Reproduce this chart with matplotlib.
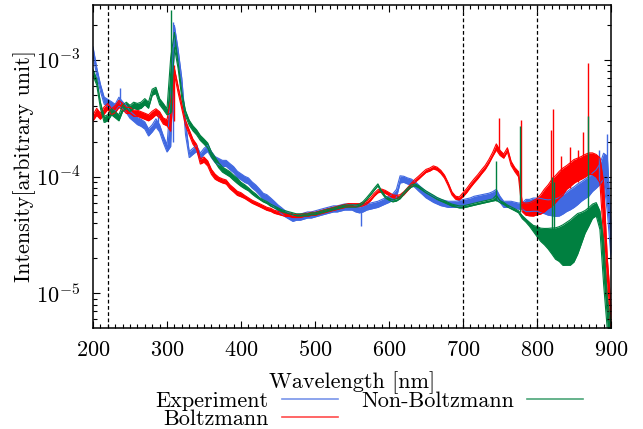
import numpy as np
import matplotlib
matplotlib.use("Agg")
import matplotlib.pyplot as plt
from matplotlib.ticker import MultipleLocator, NullFormatter, FixedLocator, FixedFormatter

plt.rcParams["font.family"] = ["cmr10", "DejaVu Serif"]
plt.rcParams["mathtext.fontset"] = "cm"
plt.rcParams["axes.unicode_minus"] = False
plt.rcParams["axes.formatter.use_mathtext"] = True

# intensities in units of 1e-4 (arbitrary unit), every 5 nm
UNIT = 1e-4
wavelength = np.arange(200, 905, 5)

# Experiment (blue): trace level and relative half-width of its noise
exp_mid = [12.0, 8.0, 5.8, 4.5, 4.3, 4.1, 3.9, 4.4, 4.1, 3.8, 3.4, 3.2, 3.0, 2.9, 2.75, 2.4, 2.6, 2.9, 2.6, 2.1,
           1.75, 3.3, 18.0, 11.5, 6.5, 2.6, 1.55, 1.65, 1.75, 1.5, 1.65, 1.75, 1.55, 1.4, 1.35, 1.3, 1.3, 1.22, 1.15, 1.05,
           1.0, 0.95, 0.92, 0.85, 0.8, 0.74, 0.68, 0.66, 0.62, 0.58, 0.54, 0.51, 0.48, 0.46, 0.44, 0.45, 0.45, 0.46, 0.47, 0.47,
           0.48, 0.49, 0.5, 0.51, 0.52, 0.53, 0.53, 0.54, 0.55, 0.55, 0.55, 0.53, 0.52, 0.53, 0.55, 0.56, 0.57, 0.58, 0.6, 0.62,
           0.64, 0.67, 0.72, 0.95, 0.95, 0.92, 0.9, 0.86, 0.8, 0.75, 0.7, 0.67, 0.64, 0.62, 0.6, 0.59, 0.58, 0.58, 0.58, 0.59,
           0.6, 0.61, 0.62, 0.64, 0.65, 0.66, 0.67, 0.68, 0.7, 0.72, 0.64, 0.58, 0.58, 0.58, 0.57, 0.56, 0.56, 0.57, 0.57, 0.58,
           0.58, 0.57, 0.56, 0.55, 0.55, 0.55, 0.56, 0.59, 0.62, 0.65, 0.68, 0.72, 0.76, 0.8, 0.84, 0.91, 0.97, 1.07, 1.27, 1.0,
           0.3]
exp_noise = [0.08, 0.08, 0.07, 0.07, 0.07, 0.07, 0.07, 0.09, 0.07, 0.07, 0.07, 0.07, 0.07, 0.07, 0.07, 0.07, 0.07, 0.08, 0.07, 0.07,
             0.07, 0.45, 0.1, 0.07, 0.07, 0.12, 0.06, 0.06, 0.06, 0.06, 0.06, 0.06, 0.06, 0.06, 0.06, 0.06, 0.06, 0.06, 0.06, 0.06,
             0.06, 0.06, 0.06, 0.06, 0.06, 0.06, 0.06, 0.06, 0.06, 0.06, 0.06, 0.06, 0.06, 0.06, 0.06, 0.06, 0.06, 0.06, 0.06, 0.06,
             0.06, 0.06, 0.06, 0.06, 0.06, 0.06, 0.06, 0.06, 0.06, 0.06, 0.06, 0.06, 0.06, 0.06, 0.06, 0.06, 0.06, 0.06, 0.06, 0.06,
             0.06, 0.06, 0.08, 0.07, 0.06, 0.06, 0.06, 0.06, 0.06, 0.06, 0.06, 0.06, 0.06, 0.06, 0.06, 0.06, 0.06, 0.06, 0.06, 0.06,
             0.06, 0.06, 0.06, 0.06, 0.06, 0.06, 0.06, 0.06, 0.06, 0.08, 0.06, 0.06, 0.06, 0.06, 0.06, 0.06, 0.06, 0.12, 0.12, 0.13,
             0.13, 0.14, 0.14, 0.15, 0.16, 0.17, 0.18, 0.19, 0.19, 0.2, 0.2, 0.2, 0.19, 0.19, 0.19, 0.18, 0.18, 0.2, 0.25, 0.5,
             0.33]

# Boltzmann (red)
boltz_mid = [3.2, 3.6, 3.3, 3.7, 4.0, 3.6, 3.8, 4.2, 4.0, 3.7, 3.7, 3.5, 3.5, 3.4, 3.3, 3.2, 3.4, 3.6, 3.4, 3.0,
             2.9, 3.5, 8.0, 5.6, 4.0, 2.9, 2.4, 2.0, 1.8, 1.35, 1.4, 1.3, 1.1, 1.0, 0.95, 0.92, 0.9, 0.82, 0.77, 0.72,
             0.7, 0.67, 0.64, 0.61, 0.59, 0.57, 0.55, 0.53, 0.52, 0.5, 0.49, 0.48, 0.47, 0.47, 0.46, 0.46, 0.46, 0.47, 0.47, 0.48,
             0.48, 0.49, 0.5, 0.51, 0.52, 0.53, 0.54, 0.55, 0.56, 0.57, 0.57, 0.57, 0.57, 0.58, 0.6, 0.64, 0.7, 0.75, 0.76, 0.74,
             0.71, 0.68, 0.67, 0.68, 0.72, 0.78, 0.85, 0.92, 0.98, 1.05, 1.12, 1.15, 1.2, 1.17, 1.1, 1.0, 0.86, 0.72, 0.66, 0.65,
             0.7, 0.76, 0.84, 0.92, 1.0, 1.1, 1.2, 1.35, 1.55, 1.8, 1.6, 1.5, 1.7, 1.3, 1.15, 1.05, 0.55, 0.53, 0.53, 0.54,
             0.56, 0.59, 0.64, 0.69, 0.75, 0.81, 0.88, 0.94, 1.01, 1.07, 1.14, 1.18, 1.22, 1.27, 1.32, 1.32, 1.27, 1.17, 0.6, 0.15,
             0.065]
boltz_noise = [0.06, 0.07, 0.06, 0.07, 0.06, 0.06, 0.07, 0.07, 0.06, 0.06, 0.06, 0.06, 0.06, 0.06, 0.06, 0.06, 0.07, 0.06, 0.06, 0.06,
               0.06, 0.3, 0.06, 0.06, 0.05, 0.05, 0.05, 0.05, 0.05, 0.05, 0.05, 0.05, 0.05, 0.05, 0.04, 0.04, 0.04, 0.04, 0.04, 0.04,
               0.04, 0.03, 0.03, 0.03, 0.03, 0.03, 0.03, 0.03, 0.03, 0.03, 0.03, 0.03, 0.03, 0.03, 0.03, 0.03, 0.03, 0.03, 0.03, 0.03,
               0.03, 0.03, 0.03, 0.03, 0.03, 0.03, 0.03, 0.03, 0.03, 0.03, 0.03, 0.03, 0.03, 0.03, 0.03, 0.03, 0.03, 0.03, 0.03, 0.03,
               0.03, 0.03, 0.03, 0.03, 0.03, 0.03, 0.03, 0.03, 0.03, 0.03, 0.03, 0.03, 0.03, 0.03, 0.03, 0.03, 0.03, 0.03, 0.03, 0.03,
               0.04, 0.04, 0.04, 0.04, 0.04, 0.04, 0.04, 0.04, 0.04, 0.06, 0.05, 0.04, 0.04, 0.04, 0.04, 0.05, 0.09, 0.12, 0.13, 0.15,
               0.16, 0.19, 0.22, 0.23, 0.26, 0.26, 0.26, 0.26, 0.23, 0.23, 0.23, 0.22, 0.22, 0.22, 0.21, 0.21, 0.22, 0.24, 0.5, 0.33,
               0.2]

# Non-Boltzmann (green)
nonb_mid = [7.8, 6.5, 4.1, 3.1, 3.2, 3.6, 3.4, 3.2, 3.85, 4.1, 3.85, 4.1, 4.0, 4.1, 4.4, 4.1, 5.3, 5.5, 4.4, 4.0,
            3.6, 7.0, 15.0, 9.0, 5.0, 3.5, 2.9, 2.6, 2.4, 2.15, 2.0, 1.85, 1.55, 1.4, 1.25, 1.15, 1.1, 1.05, 0.98, 0.92,
            0.86, 0.82, 0.78, 0.73, 0.69, 0.65, 0.62, 0.6, 0.57, 0.55, 0.53, 0.51, 0.5, 0.49, 0.48, 0.47, 0.47, 0.47, 0.47, 0.48,
            0.48, 0.49, 0.5, 0.51, 0.52, 0.53, 0.54, 0.55, 0.56, 0.56, 0.56, 0.56, 0.57, 0.6, 0.65, 0.71, 0.78, 0.85, 0.74, 0.67,
            0.64, 0.62, 0.63, 0.66, 0.72, 0.78, 0.83, 0.85, 0.82, 0.78, 0.74, 0.71, 0.68, 0.65, 0.63, 0.61, 0.59, 0.57, 0.56, 0.55,
            0.55, 0.56, 0.57, 0.58, 0.59, 0.6, 0.61, 0.62, 0.63, 0.66, 0.61, 0.59, 0.56, 0.54, 0.52, 0.5, 0.45, 0.42, 0.39, 0.36,
            0.34, 0.32, 0.31, 0.3, 0.29, 0.28, 0.28, 0.28, 0.29, 0.3, 0.32, 0.35, 0.38, 0.42, 0.46, 0.51, 0.53, 0.43, 0.2, 0.07,
            0.05]
nonb_noise = [0.06, 0.06, 0.06, 0.06, 0.06, 0.06, 0.06, 0.06, 0.06, 0.06, 0.06, 0.06, 0.06, 0.06, 0.06, 0.06, 0.06, 0.06, 0.06, 0.06,
              0.06, 0.5, 0.15, 0.06, 0.06, 0.05, 0.05, 0.05, 0.05, 0.05, 0.05, 0.05, 0.05, 0.05, 0.05, 0.05, 0.05, 0.05, 0.05, 0.05,
              0.04, 0.04, 0.03, 0.03, 0.03, 0.02, 0.02, 0.02, 0.02, 0.02, 0.02, 0.02, 0.02, 0.02, 0.02, 0.02, 0.02, 0.02, 0.02, 0.02,
              0.02, 0.02, 0.02, 0.02, 0.02, 0.02, 0.02, 0.02, 0.02, 0.02, 0.02, 0.02, 0.02, 0.02, 0.02, 0.02, 0.02, 0.02, 0.02, 0.02,
              0.02, 0.02, 0.02, 0.02, 0.02, 0.02, 0.02, 0.02, 0.02, 0.02, 0.02, 0.02, 0.02, 0.02, 0.02, 0.02, 0.02, 0.02, 0.02, 0.02,
              0.02, 0.02, 0.02, 0.02, 0.02, 0.02, 0.02, 0.02, 0.02, 0.05, 0.02, 0.02, 0.02, 0.02, 0.02, 0.02, 0.03, 0.03, 0.04, 0.06,
              0.1, 0.13, 0.16, 0.2, 0.25, 0.3, 0.33, 0.38, 0.4, 0.42, 0.42, 0.38, 0.3, 0.22, 0.18, 0.14, 0.13, 0.18, 0.4, 0.3,
              0.1]

# narrow emission lines: position [nm], foot, tip (units of 1e-4)
exp_line_nm = [237, 288, 308, 562, 884, 894]
exp_line_foot = [4.2, 2.6, 2.0, 0.38, 0.9, 1.0]
exp_line_tip = [5.8, 3.4, 21.0, 0.52, 1.7, 2.3]

boltz_line_nm = [310, 748, 778, 819, 821, 833, 845, 855, 862, 869]
boltz_line_foot = [3.0, 1.7, 0.6, 0.6, 0.6, 0.7, 0.8, 0.9, 1.0, 1.0]
boltz_line_tip = [9.0, 3.2, 3.06, 2.5, 3.8, 1.5, 1.8, 1.7, 2.4, 9.4]

nonb_line_nm = [306, 745, 777, 820, 823, 869]
nonb_line_foot = [3.6, 0.62, 0.5, 0.3, 0.25, 0.4]
nonb_line_tip = [27.0, 1.35, 2.7, 1.0, 0.9, 3.3]

marker_nm = [220, 700, 800]
xticks = [200, 300, 400, 500, 600, 700, 800, 900]
yticks = [1e-5, 1e-4, 1e-3]
ytick_labels = ["$10^{-5}$", "$10^{-4}$", "$10^{-3}$"]

series = [
    ("Experiment", "#4169e1", exp_mid, exp_noise, exp_line_nm, exp_line_foot, exp_line_tip),
    ("Boltzmann", "#ff0000", boltz_mid, boltz_noise, boltz_line_nm, boltz_line_foot, boltz_line_tip),
    ("Non-Boltzmann", "#008040", nonb_mid, nonb_noise, nonb_line_nm, nonb_line_foot, nonb_line_tip),
]

fig = plt.figure(figsize=(6.43, 4.29), dpi=100)
ax = fig.add_axes([93 / 643, 1 - 327.7 / 429, 518 / 643, 322.7 / 429])

for name, col, mid, noise, lnm, lfoot, ltip in series:
    mid = np.array(mid) * UNIT
    noise = np.array(noise)
    lo = mid * (1 - noise)
    hi = mid * (1 + noise)
    ax.fill_between(wavelength, lo, hi, color=col, lw=0)
    ax.plot(wavelength, lo, color=col, lw=0.8)
    ax.plot(wavelength, hi, color=col, lw=0.8)
    ax.vlines(lnm, np.array(lfoot) * UNIT, np.array(ltip) * UNIT, color=col, lw=1.0)
    ax.plot([], [], color=col, lw=1.2, alpha=0.7, label=name)

for m in marker_nm:
    ax.axvline(m, color="black", lw=0.9, ls=(0, (3, 2)), zorder=5)

ax.set_yscale("log")
ax.set_xlim(200, 900)
ax.set_ylim(5.07e-6, 2.96e-3)
ax.xaxis.set_major_locator(FixedLocator(xticks))
ax.xaxis.set_minor_locator(MultipleLocator(10))
ax.yaxis.set_major_locator(FixedLocator(yticks))
ax.yaxis.set_major_formatter(FixedFormatter(ytick_labels))
ax.yaxis.set_minor_formatter(NullFormatter())
ax.tick_params(which="both", direction="in", top=True, right=True, labelsize=16, width=0.8)
ax.tick_params(which="major", length=5, pad=9)
ax.tick_params(which="minor", length=3)
for s in ax.spines.values():
    s.set_linewidth(1.1)

ax.set_xlabel("Wavelength [nm]", fontsize=16)
ax.xaxis.set_label_coords(0.5, -0.135)
ax.set_ylabel("Intensity[arbitrary unit]", fontsize=16)
ax.yaxis.set_label_coords(-0.11, 0.5)

ax.legend(loc="upper center", bbox_to_anchor=(0.574, 0.088), bbox_transform=fig.transFigure,
          ncol=2, markerfirst=False, frameon=False, fontsize=16, handlelength=2.5,
          handletextpad=0.6, columnspacing=1.05, labelspacing=-0.06, borderpad=0, borderaxespad=0)

fig.savefig("out.png", dpi=100)
